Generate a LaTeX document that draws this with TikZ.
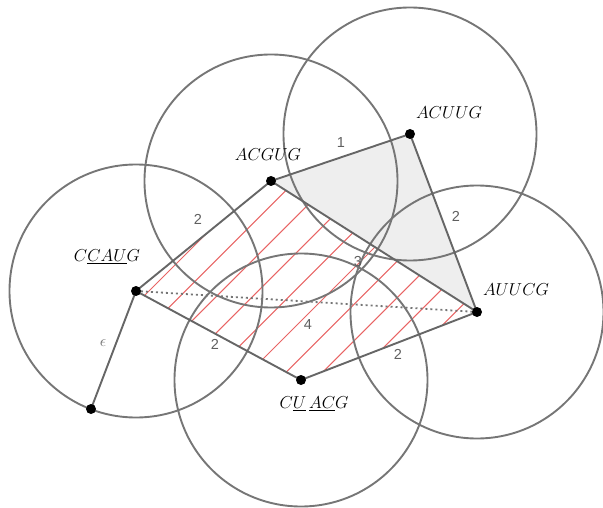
\documentclass[tikz,border=0pt]{standalone}
\usepackage{fontspec}
\newfontfamily\lblfont{Liberation Sans}
\definecolor{circc}{RGB}{118,118,118}
\definecolor{edgec}{RGB}{102,102,102}
\definecolor{hatchc}{RGB}{232,100,100}
\definecolor{tric}{RGB}{238,238,238}
\definecolor{numc}{RGB}{95,95,95}
\definecolor{epsc}{RGB}{120,120,120}
\pgfdeclarelayer{bg}
\pgfdeclarelayer{mid}
\pgfsetlayers{bg,mid,main}
\begin{document}
\begin{tikzpicture}[x=1pt,y=-1pt,
  circline/.style={draw=circc, line width=1.9pt},
  edgeline/.style={draw=edgec, line width=1.9pt},
  dotline/.style={draw=edgec!90, line width=1.8pt, dash pattern=on 2pt off 3pt},
  hatchline/.style={draw=hatchc, line width=1pt},
  pt/.style={circle, fill=black, inner sep=0pt, minimum size=10pt},
  seq/.style={font=\fontsize{17}{20}\selectfont, inner sep=0pt},
  num/.style={font=\lblfont\fontsize{14.5}{17}\selectfont, text=numc, inner sep=0pt},
  epslbl/.style={text=epsc, inner sep=0pt},
]
\useasboundingbox (0,0) rectangle (603,508);
% points
\node[pt] (A) at (410,134) {}; % ACUUG
\node[pt] (G) at (271,181) {}; % ACGUG
\node[pt] (C) at (136,291) {}; % CCAUG
\node[pt] (U) at (477,312) {}; % AUUCG
\node[pt] (Q) at (301,380) {}; % CUACG
\node[pt] (E) at (91,409) {};
% sequence labels
\node[seq] (lA) at (449,113) {$ACUUG$};
\node[seq] (lG) at (268,155) {$ACGUG$};
\node[seq] (lC) at (107,257) {$C\underline{CAU}G$};
\node[seq] (lU) at (516,290) {$AUUCG$};
\node[seq] (lQ) at (314,404) {$C\underline{U}\,\underline{AC}G$};
% fills and hatching
\begin{pgfonlayer}{bg}
  \fill[tric] (G.center) -- (A.center) -- (U.center) -- cycle;
  \begin{scope}
    \clip (C.center) -- (G.center) -- (U.center) -- (Q.center) -- cycle;
    \foreach \k in {0,...,9} {
      \pgfmathsetmacro{\cc}{440+36.4*\k}
      \draw[hatchline] ({\cc-600},600) -- ({\cc+200},-200);
    }
  \end{scope}
\end{pgfonlayer}
% circles and edges
\begin{pgfonlayer}{mid}
  \foreach \p in {A,G,C,U,Q} {
    \draw[circline] (\p.center) circle[radius=126.5];
  }
  \draw[dotline] (C.center) -- node[num, midway, xshift=1.5pt, yshift=-23.5pt] {4} (U.center);
  \draw[edgeline] (G.center) -- node[num, midway, xshift=0.5pt, yshift=14.5pt] {1} (A.center);
  \draw[edgeline] (A.center) -- node[num, midway, xshift=12.5pt, yshift=7pt] {2} (U.center);
  \draw[edgeline] (G.center) -- node[num, midway, xshift=-16pt, yshift=-15.5pt] {3} (U.center);
  \draw[edgeline] (C.center) -- node[num, midway, xshift=-5.5pt, yshift=17pt] {2} (G.center);
  \draw[edgeline] (C.center) -- node[num, midway, xshift=-3.5pt, yshift=-8.5pt] {2} (Q.center);
  \draw[edgeline] (Q.center) -- node[num, midway, xshift=9pt, yshift=-8pt] {2} (U.center);
  \draw[edgeline] (C.center) -- node[epslbl, midway, xshift=-10.5pt, yshift=7pt] {\scalebox{1.6}{$\epsilon$}} (E.center);
\end{pgfonlayer}
\end{tikzpicture}
\end{document}
